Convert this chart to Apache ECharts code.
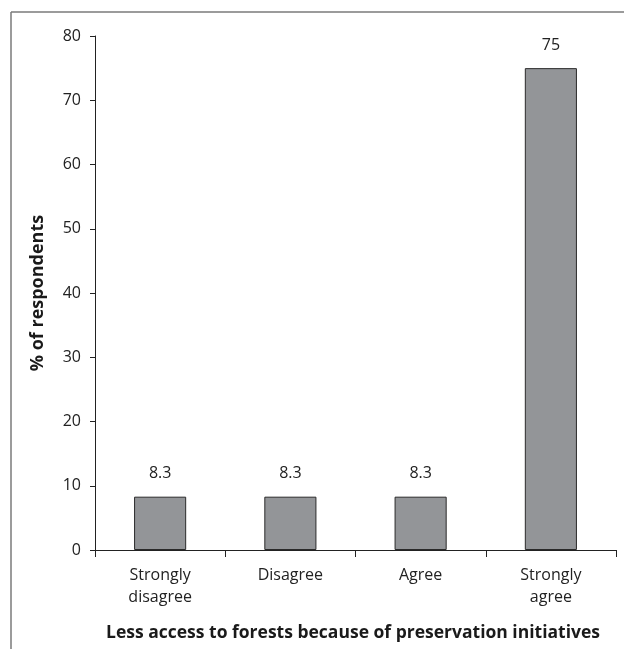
<!DOCTYPE html>
<html>
<head>
<meta charset="utf-8">
<script src="https://cdn.jsdelivr.net/npm/echarts@6/dist/echarts.min.js"></script>
<style>
  html, body { margin: 0; padding: 0; background: #fff; }
  #chart { width: 624px; height: 649px; }
</style>
</head>
<body>
<div id="chart"></div>
<script>
// Survey responses
const categories = ['Strongly\ndisagree', 'Disagree', 'Agree', 'Strongly\nagree'];
const percentValues = [8.3, 8.3, 8.3, 75];
const yTicks = { min: 0, max: 80, step: 10 };
const yAxisTitle = '% of respondents';
const xAxisTitle = 'Less access to forests because of preservation initiatives';

const FONT = '"Open Sans", sans-serif';
const chart = echarts.init(document.getElementById('chart'), null, { renderer: 'canvas' });

chart.setOption({
  animation: false,
  backgroundColor: '#ffffff',
  grid: { left: 95, right: 8, top: 36, bottom: 99, containLabel: false },
  graphic: [
    // outer frame (left and top edges)
    { type: 'line', shape: { x1: 11, y1: 12, x2: 11, y2: 649 }, style: { stroke: '#7a7a7a', lineWidth: 1.5 } },
    { type: 'line', shape: { x1: 11, y1: 12, x2: 624, y2: 12 }, style: { stroke: '#7a7a7a', lineWidth: 1.5 } },
    {
      type: 'text', x: 353, y: 633,
      style: { text: xAxisTitle, font: 'bold 17.5px ' + FONT, fill: '#1a1a1a', align: 'center', verticalAlign: 'middle' }
    }
  ],
  xAxis: {
    type: 'category',
    data: categories,
    boundaryGap: true,
    axisLine: { lineStyle: { color: '#222', width: 1 } },
    axisTick: { show: true, length: 7, lineStyle: { color: '#222' } },
    axisLabel: { color: '#222', fontSize: 16, fontFamily: FONT, lineHeight: 22, margin: 14 }
  },
  yAxis: {
    type: 'value',
    min: yTicks.min, max: yTicks.max, interval: yTicks.step,
    name: yAxisTitle,
    nameLocation: 'middle',
    nameGap: 48,
    nameRotate: 90,
    nameTextStyle: { fontSize: 18, fontWeight: 'bold', fontFamily: FONT, color: '#1a1a1a' },
    axisLine: { show: true, lineStyle: { color: '#222', width: 1 } },
    axisTick: { show: true, length: 5, lineStyle: { color: '#222' } },
    axisLabel: { color: '#222', fontSize: 16, fontFamily: FONT, margin: 14 },
    splitLine: { show: false }
  },
  series: [{
    type: 'bar',
    data: percentValues,
    barWidth: '40%',
    itemStyle: { color: '#939598', borderColor: '#2a2a2a', borderWidth: 1 },
    label: {
      show: true, position: 'top', distance: 15,
      color: '#222', fontSize: 16, fontFamily: FONT
    }
  }]
});
</script>
</body>
</html>
